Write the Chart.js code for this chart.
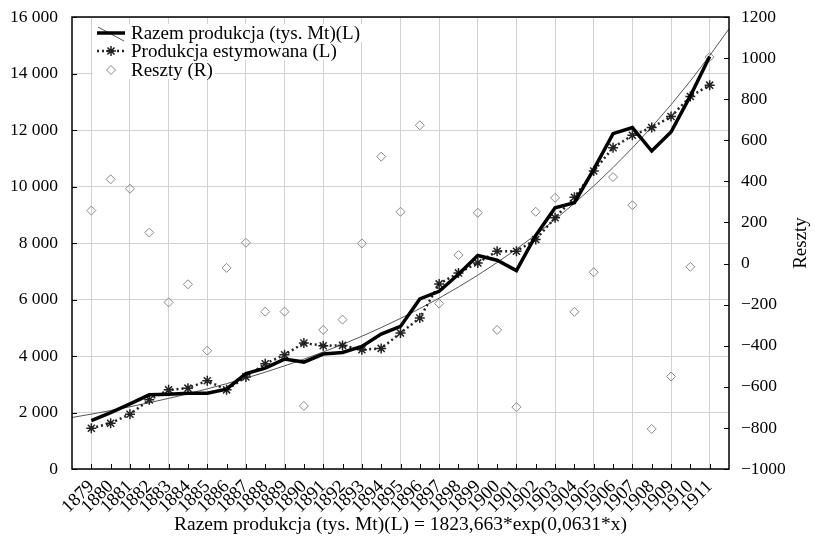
<!DOCTYPE html>
<html>
<head>
<meta charset="utf-8">
<script src="https://cdn.jsdelivr.net/npm/chart.js@4.4.1/dist/chart.umd.min.js"></script>
<style>
  html, body { margin: 0; padding: 0; background: #fff; }
</style>
</head>
<body>
<canvas id="chart" width="815" height="545"></canvas>
<script>
const years = [1879, 1880, 1881, 1882, 1883, 1884, 1885, 1886, 1887, 1888, 1889,
    1890, 1891, 1892, 1893, 1894, 1895, 1896, 1897, 1898, 1899, 1900,
    1901, 1902, 1903, 1904, 1905, 1906, 1907, 1908, 1909, 1910, 1911];

// Razem produkcja (tys. Mt)(L)
const production = [1713, 1997, 2306, 2625, 2649, 2685, 2685, 2827, 3380, 3572, 3891,
    3785, 4069, 4127, 4339, 4778, 5048, 6020, 6290, 6893, 7556, 7390,
    7024, 8265, 9248, 9425, 10607, 11873, 12086, 11256, 11930, 13207, 14604];

// Produkcja estymowana (L)
const estimated = [1443, 1621, 1940, 2448, 2802, 2862, 3122, 2802, 3260, 3725, 4044,
    4458, 4363, 4375, 4221, 4268, 4813, 5345, 6551, 6941, 7296, 7710,
    7710, 8123, 8893, 9620, 10547, 11376, 11813, 12086, 12476, 13186, 13587];

// Reszty (R)
const residuals = [258, 410, 364, 151, -189, -101, -424, -21, 101, -234, -234,
    -693, -323, -273, 98, 520, 252, 673, -195, 41, 247, -323,
    -699, 252, 320, -235, -42, 421, 284, -805, -550, -16, 1005];

// exponential fit, 1878..1912 (values of 1823,663*exp(0,0631*x))
const trendYears = [1878, 1879, 1880, 1881, 1882, 1883, 1884, 1885, 1886, 1887, 1888, 1889,
    1890, 1891, 1892, 1893, 1894, 1895, 1896, 1897, 1898, 1899, 1900,
    1901, 1902, 1903, 1904, 1905, 1906, 1907, 1908, 1909, 1910, 1911, 1912];
const trendValues = [1824, 1942, 2069, 2204, 2347, 2500, 2663, 2836, 3021, 3218, 3427, 3651,
    3888, 4142, 4411, 4699, 5005, 5331, 5678, 6048, 6442, 6861, 7308,
    7784, 8291, 8831, 9406, 10019, 10671, 11366, 12107, 12895, 13735, 14630, 15583];

const leftAxis = { min: 0, max: 16000, step: 2000 };
const rightAxis = { min: -1000, max: 1200, step: 200 };
const legendLabels = ['Razem produkcja (tys. Mt)(L)', 'Produkcja estymowana (L)', 'Reszty (R)'];
const rightTitle = 'Reszty';
const bottomTitle = 'Razem produkcja (tys. Mt)(L) = 1823,663*exp(0,0631*x)';

const FONT = "'Liberation Serif', 'DejaVu Serif', serif";
const firstYear = years[0];
const lastYear = years[years.length - 1];

function pairs(xs, ys) {
    return xs.map((x, i) => ({ x: x, y: ys[i] }));
}

function spaced(v) {
    return String(v).replace(/\B(?=(\d{3})+(?!\d))/g, ' ');
}

// fixed widths for the side axes, no extra top/bottom padding
function fixSide(width) {
    return s => {
        s.width = width;
        s.paddingTop = 0;
        s.paddingBottom = 0;
    };
}

// frame, inward ticks, right title and the legend inside the plot
const decorPlugin = {
    id: 'decor',
    afterDraw(chart) {
        const { ctx, chartArea: a, scales } = chart;
        ctx.save();
        ctx.strokeStyle = '#000';
        ctx.lineWidth = 1.5;
        ctx.strokeRect(a.left, a.top, a.right - a.left, a.bottom - a.top);

        ctx.lineWidth = 1;
        ctx.beginPath();
        scales.x.ticks.forEach(t => {
            if (t.value < firstYear || t.value > lastYear) return;
            const px = Math.round(scales.x.getPixelForValue(t.value)) + 0.5;
            ctx.moveTo(px, a.bottom);
            ctx.lineTo(px, a.bottom - 5);
        });
        scales.y.ticks.forEach(t => {
            const py = Math.round(scales.y.getPixelForValue(t.value)) + 0.5;
            ctx.moveTo(a.left, py);
            ctx.lineTo(a.left + 5, py);
        });
        scales.y1.ticks.forEach(t => {
            const py = Math.round(scales.y1.getPixelForValue(t.value)) + 0.5;
            ctx.moveTo(a.right, py);
            ctx.lineTo(a.right - 5, py);
        });
        ctx.stroke();

        // right axis title, reading upwards
        ctx.fillStyle = '#000';
        ctx.font = '19px ' + FONT;
        ctx.textAlign = 'center';
        ctx.textBaseline = 'middle';
        ctx.save();
        ctx.translate(801, (a.top + a.bottom) / 2);
        ctx.rotate(-Math.PI / 2);
        ctx.fillText(rightTitle, 0, 0);
        ctx.restore();

        // legend
        const lx = a.left + 25, tx = a.left + 59;
        const rows = [a.top + 16, a.top + 34, a.top + 53];
        ctx.textAlign = 'left';
        rows.forEach((ry, i) => {
            const w = ctx.measureText(legendLabels[i]).width;
            ctx.fillStyle = '#fff';
            ctx.fillRect(lx - 4, ry - 9, tx - lx + w + 6, 18);
        });
        // row 1: thick line with the thin fit line
        ctx.strokeStyle = '#555';
        ctx.lineWidth = 1;
        ctx.beginPath();
        ctx.moveTo(lx + 1, rows[0] - 6);
        ctx.lineTo(lx + 27, rows[0] + 8);
        ctx.stroke();
        ctx.strokeStyle = '#000';
        ctx.lineWidth = 3.5;
        ctx.beginPath();
        ctx.moveTo(lx, rows[0]);
        ctx.lineTo(lx + 28, rows[0]);
        ctx.stroke();
        // row 2: dotted line with asterisk
        ctx.strokeStyle = '#222';
        ctx.lineWidth = 2.5;
        ctx.setLineDash([2, 3]);
        ctx.beginPath();
        ctx.moveTo(lx, rows[1]);
        ctx.lineTo(lx + 28, rows[1]);
        ctx.stroke();
        ctx.setLineDash([]);
        ctx.lineWidth = 1.5;
        ctx.beginPath();
        for (let k = 0; k < 4; k++) {
            const ang = k * Math.PI / 4;
            ctx.moveTo(lx + 14 - 5 * Math.cos(ang), rows[1] - 5 * Math.sin(ang));
            ctx.lineTo(lx + 14 + 5 * Math.cos(ang), rows[1] + 5 * Math.sin(ang));
        }
        ctx.stroke();
        // row 3: diamond
        ctx.strokeStyle = '#888';
        ctx.lineWidth = 1;
        ctx.beginPath();
        ctx.moveTo(lx + 14, rows[2] - 4.5);
        ctx.lineTo(lx + 18.5, rows[2]);
        ctx.lineTo(lx + 14, rows[2] + 4.5);
        ctx.lineTo(lx + 9.5, rows[2]);
        ctx.closePath();
        ctx.stroke();

        ctx.fillStyle = '#000';
        rows.forEach((ry, i) => ctx.fillText(legendLabels[i], tx, ry + 1));
        ctx.restore();
    }
};

new Chart(document.getElementById('chart').getContext('2d'), {
    type: 'line',
    data: {
        datasets: [
            {
                label: legendLabels[0],
                data: pairs(years, production),
                borderColor: '#000',
                borderWidth: 3.5,
                pointRadius: 0,
                yAxisID: 'y',
                order: 0
            },
            {
                label: legendLabels[1],
                data: pairs(years, estimated),
                borderColor: '#222',
                borderWidth: 2.5,
                borderDash: [2, 3],
                pointStyle: 'star',
                pointRadius: 5,
                pointBorderWidth: 1.5,
                pointBorderColor: '#222',
                pointBackgroundColor: '#222',
                yAxisID: 'y',
                order: 1
            },
            {
                label: 'fit',
                data: pairs(trendYears, trendValues),
                borderColor: '#555',
                borderWidth: 1,
                pointRadius: 0,
                yAxisID: 'y',
                order: 2
            },
            {
                label: legendLabels[2],
                data: pairs(years, residuals),
                showLine: false,
                pointStyle: 'rectRot',
                pointRadius: 4.5,
                pointBorderWidth: 1,
                pointBorderColor: '#888',
                pointBackgroundColor: 'rgba(255,255,255,0)',
                yAxisID: 'y1',
                order: 3
            }
        ]
    },
    options: {
        responsive: false,
        animation: false,
        layout: { padding: { top: 17, left: 0, right: 0, bottom: 0 } },
        plugins: {
            legend: { display: false },
            tooltip: { enabled: false }
        },
        scales: {
            x: {
                type: 'linear',
                min: firstYear - 1,
                max: lastYear + 1,
                border: { display: false },
                grid: {
                    drawTicks: false,
                    color: c => (c.tick && c.tick.value >= firstYear && c.tick.value <= lastYear &&
                        (c.tick.value - firstYear) % 2 === 0) ? '#d2d2d2' : 'rgba(0,0,0,0)'
                },
                ticks: {
                    stepSize: 1,
                    autoSkip: false,
                    minRotation: 45,
                    maxRotation: 45,
                    padding: 7,
                    color: '#000',
                    font: { family: FONT, size: 18.5 },
                    callback: v => (v < firstYear || v > lastYear) ? '' : String(v)
                },
                title: {
                    display: true,
                    text: bottomTitle,
                    color: '#000',
                    font: { family: FONT, size: 19.5 },
                    padding: { top: 0, bottom: 8 }
                },
                afterFit: s => { s.height = 76; }
            },
            y: {
                position: 'left',
                min: leftAxis.min,
                max: leftAxis.max,
                border: { display: false },
                grid: { drawTicks: false, color: '#d2d2d2' },
                ticks: {
                    stepSize: leftAxis.step,
                    padding: 14,
                    color: '#000',
                    font: { family: FONT, size: 17.5 },
                    callback: v => spaced(v)
                },
                afterFit: fixSide(72)
            },
            y1: {
                position: 'right',
                min: rightAxis.min,
                max: rightAxis.max,
                border: { display: false },
                grid: { display: false, drawTicks: false },
                ticks: {
                    stepSize: rightAxis.step,
                    padding: 12,
                    color: '#000',
                    font: { family: FONT, size: 17.5 },
                    callback: v => v < 0 ? '\u2212' + Math.abs(v) : String(v)
                },
                afterFit: fixSide(86)
            }
        }
    },
    plugins: [decorPlugin]
});
</script>
</body>
</html>
